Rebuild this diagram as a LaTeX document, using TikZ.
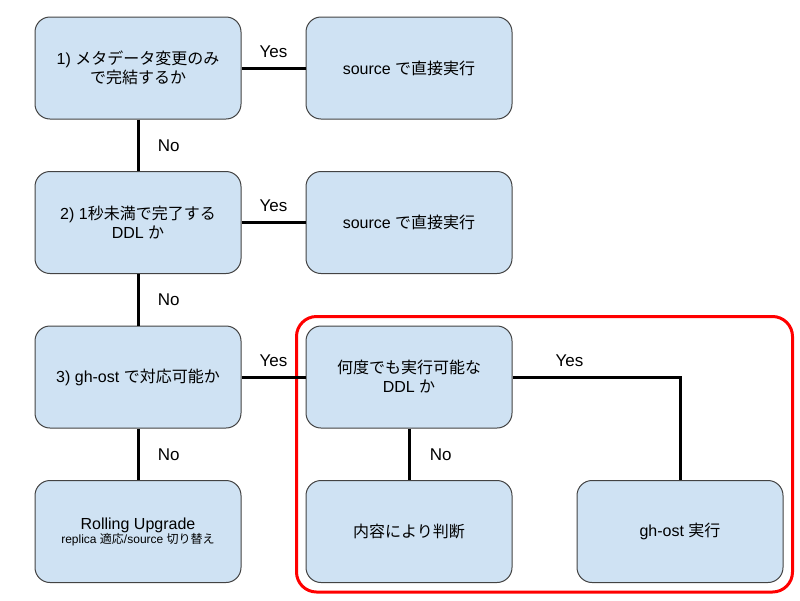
\documentclass[tikz,border=0pt]{standalone}
\usepackage{fontspec}
\setmainfont{Liberation Sans}
\newfontfamily\jp{Noto Sans CJK JP}
\usetikzlibrary{fit,backgrounds}
\definecolor{boxfill}{RGB}{207,226,243}
\definecolor{boxedge}{RGB}{67,67,67}

\begin{document}
\begin{tikzpicture}[x=1pt, y=-1pt,
    flowbox/.style={draw=boxedge, line width=1pt, fill=boxfill, rounded corners=15pt,
        minimum width=206pt, minimum height=102pt, inner sep=0pt, align=center,
        font=\fontsize{16}{19}\selectfont},
    link/.style={line width=3pt},
    answer/.style={font=\fontsize{17}{20}\selectfont}]
    \useasboundingbox (0,0) rectangle (800,600);

    % Left column: questions
    \node[flowbox] (meta) at (138,68) {1) {\jp メタデータ変更のみ}\\{\jp で完結するか}};
    \node[flowbox] (quick) at (138,222.5) {2) 1{\jp 秒未満で完了する}\\DDL {\jp か}};
    \node[flowbox] (ghost) at (138,377) {3) gh-ost {\jp で対応可能か}};
    \node[flowbox] (rolling) at (138,531.5) {Rolling Upgrade\\[-5pt]{\fontsize{12}{14}\selectfont replica {\jp 適応}/source {\jp 切り替え}}};

    % Direct execution on source
    \node[flowbox] (direct1) at (409,68) {source {\jp で直接実行}};
    \node[flowbox] (direct2) at (409,222.5) {source {\jp で直接実行}};

    % gh-ost branch
    \node[flowbox] (retry) at (409,377) {{\jp 何度でも実行可能な}\\DDL {\jp か}};
    \node[flowbox] (judge) at (409,531.5) {{\jp 内容により判断}};
    \node[flowbox] (ghexec) at (680,531.5) {gh-ost {\jp 実行}};

    % Red frame round the gh-ost branch
    \begin{scope}[on background layer]
        \node[draw=red, line width=3pt, rounded corners=20pt, inner sep=9pt,
            fit=(retry)(judge)(ghexec)] (ghostarea) {};
    \end{scope}

    % Connectors
    \draw[link] (meta) -- node[answer, above=6pt] {Yes} (direct1);
    \draw[link] (meta) -- node[answer, right=15pt] {No} (quick);
    \draw[link] (quick) -- node[answer, above=6pt] {Yes} (direct2);
    \draw[link] (quick) -- node[answer, right=15pt] {No} (ghost);
    \draw[link] (ghost) -- node[answer, above=6pt] {Yes} (retry);
    \draw[link] (ghost) -- node[answer, right=15pt] {No} (rolling);
    \draw[link] (retry) -| node[answer, pos=0.17, above=6pt] {Yes} (ghexec);
    \draw[link] (retry) -- node[answer, right=16pt] {No} (judge);
\end{tikzpicture}
\end{document}
